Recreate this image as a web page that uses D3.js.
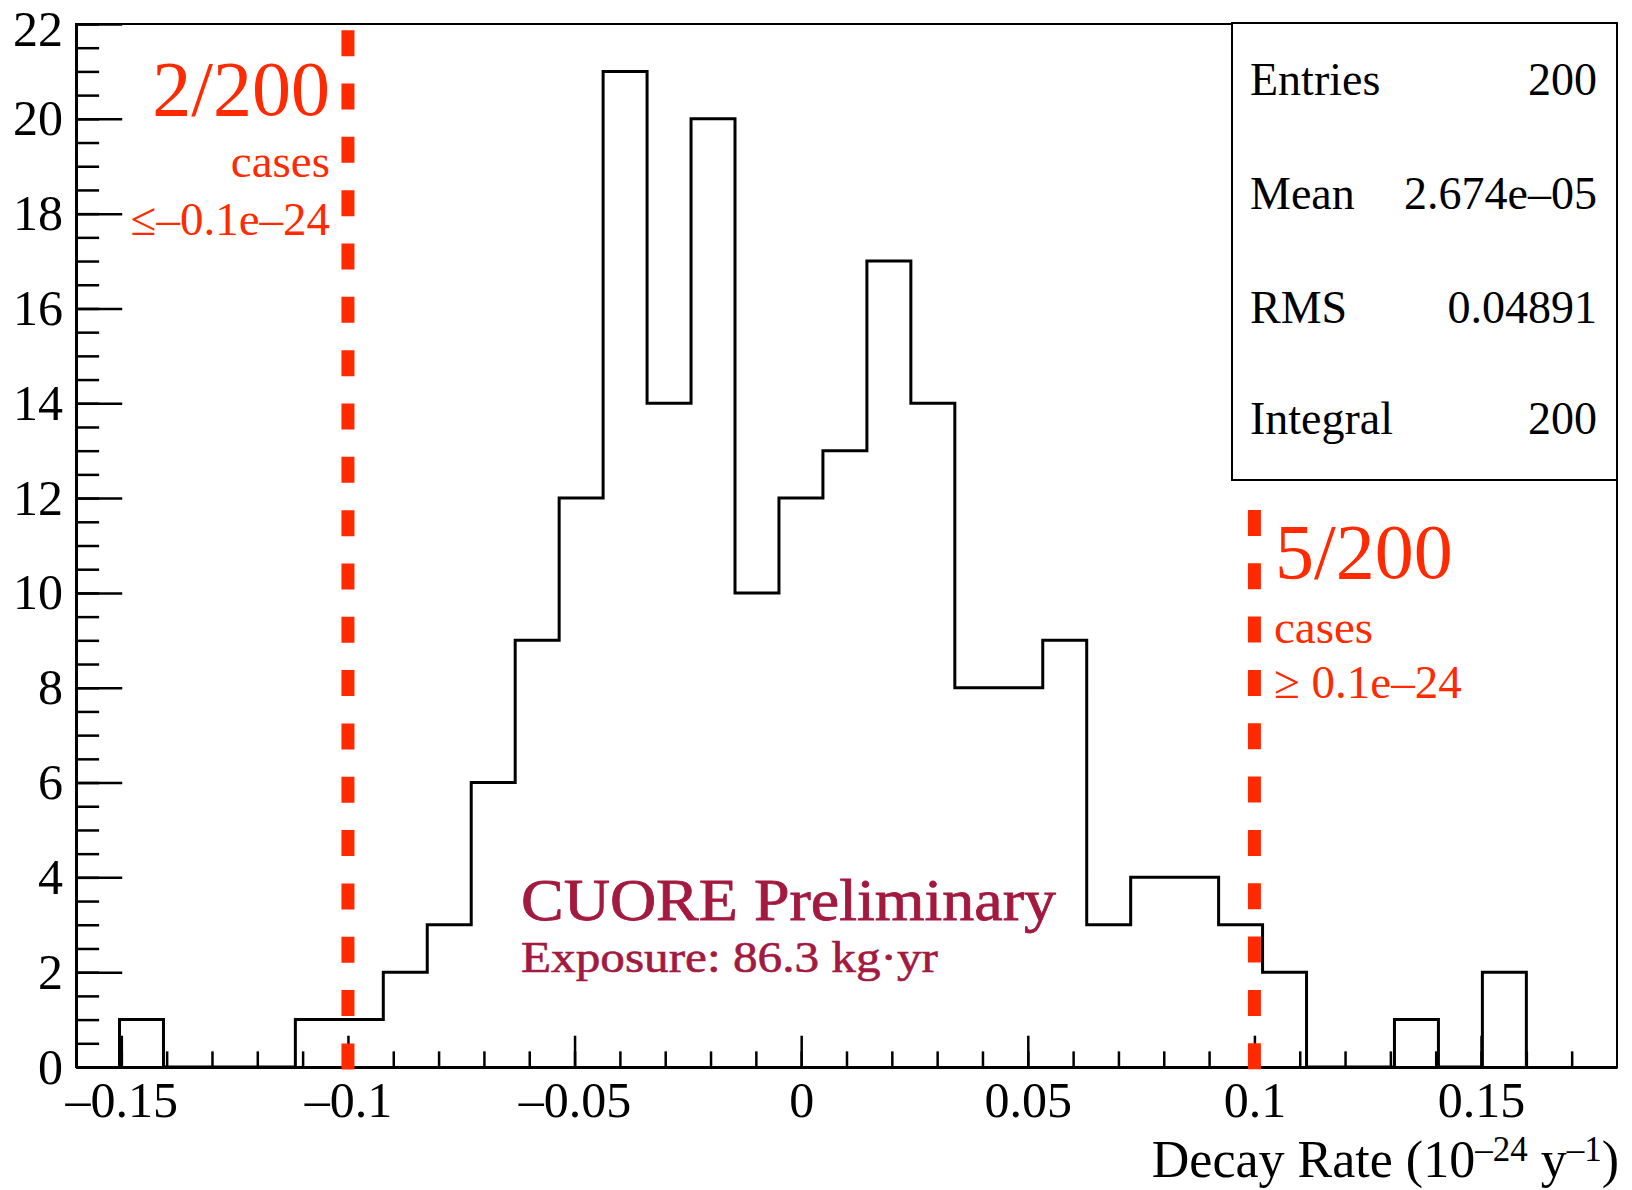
<!DOCTYPE html>
<html lang="en">
<head>
  <meta charset="utf-8">
  <title>Decay Rate</title>
  <script src="https://d3js.org/d3.v7.min.js"></script>
  <style>
    body { margin: 0; background: #fff; }
    text { font-family: "Liberation Serif", "DejaVu Serif", serif; }
  </style>
</head>
<body>
<div id="chart"></div>

<script>

// histogram content, 32 bins between binLow and binHigh
var counts = [1, 0, 0, 0, 1, 1, 2, 3, 6, 9, 12, 21, 14, 20, 10, 12,
              13, 17, 14, 8, 8, 9, 3, 4, 4, 3, 2, 0, 0, 1, 0, 2];
var binLow = -0.1504,
    binHigh = 0.1600;

// axis ranges and tick labels
var xDomain = [-0.16, 0.18];
var yDomain = [0, 22];
var xMajor = [-0.15, -0.1, -0.05, 0, 0.05, 0.1, 0.15];
var yMajor = [0, 2, 4, 6, 8, 10, 12, 14, 16, 18, 20, 22];

// cut lines: x value and how high the dashes go (in counts)
var cutX = [-0.1, 0.1];
var cutTop = [21.87, 11.75];

// stats box
var statNames = ["Entries", "Mean", "RMS", "Integral"];
var statValues = ["200", "2.674e\u201305", "0.04891", "200"];

var width = 1632, height = 1190;
var frame = {left: 76, right: 1617, top: 24, bottom: 1067};
var red = "#ff2a00";

var svg = d3.select("#chart")
  .append("svg")
    .attr("width", width)
    .attr("height", height);

var x = d3.scaleLinear()
    .domain(xDomain)
    .range([frame.left, frame.right]);
var y = d3.scaleLinear()
    .domain(yDomain)
    .range([frame.bottom, frame.top]);

var fmt = function(d) {
  if (d === 0) return "0";
  return (d < 0 ? "\u2013" : "") + String(Math.abs(d));
};

// frame (top and right sides)
svg.append("rect")
    .attr("x", frame.left)
    .attr("y", frame.top)
    .attr("width", frame.right - frame.left)
    .attr("height", frame.bottom - frame.top)
    .attr("fill", "none")
    .attr("stroke", "#000")
    .attr("stroke-width", 2);

// minor ticks
var xMinor = d3.range(-15, 18).map(function(i) { return i / 100; });
var yMinor = d3.range(0, 45).map(function(i) { return i / 2; });
var xLen = frame.bottom - frame.top, yLen = frame.right - frame.left;

svg.append("g")
    .attr("class", "minor")
    .attr("transform", "translate(0," + frame.bottom + ")")
    .call(d3.axisBottom(x).tickValues(xMinor).tickSize(-0.015 * xLen).tickFormat(""));
svg.append("g")
    .attr("class", "minor")
    .attr("transform", "translate(" + frame.left + ",0)")
    .call(d3.axisLeft(y).tickValues(yMinor).tickSize(-0.015 * yLen).tickFormat(""));
svg.selectAll(".minor .domain").remove();

// major ticks + labels
var xAxis = svg.append("g")
    .attr("transform", "translate(0," + frame.bottom + ")")
    .call(d3.axisBottom(x).tickValues(xMajor).tickSize(-0.03 * xLen)
      .tickSizeOuter(0).tickPadding(14).tickFormat(fmt));
var yAxis = svg.append("g")
    .attr("transform", "translate(" + frame.left + ",0)")
    .call(d3.axisLeft(y).tickValues(yMajor).tickSize(-0.03 * yLen)
      .tickSizeOuter(0).tickPadding(13).tickFormat(fmt));

[xAxis, yAxis].forEach(function(a) {
  a.selectAll("text")
      .attr("fill", "#000")
      .style("font-family", "Liberation Serif")
      .style("font-size", "50px");
  a.select(".domain").attr("stroke-width", 3);
});
svg.selectAll(".tick line").attr("stroke", "#000").attr("stroke-width", 2.5);
// top label is pushed a little inside the pad
yAxis.selectAll(".tick text").filter(function(d) { return d === 22; }).attr("dy", "0.42em");

// histogram outline
var nBins = counts.length;
var step = (binHigh - binLow) / nBins;
var pts = [[binLow, 0]];
counts.forEach(function(c, i) {
  pts.push([binLow + i * step, c]);
  pts.push([binLow + (i + 1) * step, c]);
});
pts.push([binHigh, 0]);

var line = d3.line()
    .x(function(d) { return x(d[0]); })
    .y(function(d) { return y(d[1]); });

svg.append("path")
    .datum(pts)
    .attr("d", line)
    .attr("fill", "none")
    .attr("stroke", "#000")
    .attr("stroke-width", 3);

// stats box
var box = {x0: 1232, x1: frame.right, y0: 23, y1: 480};
svg.append("rect")
    .attr("x", box.x0).attr("y", box.y0)
    .attr("width", box.x1 - box.x0).attr("height", box.y1 - box.y0)
    .attr("fill", "#fff")
    .attr("stroke", "#000")
    .attr("stroke-width", 2);

var rowBase = [95, 209, 323, 434];
statNames.forEach(function(name, i) {
  svg.append("text")
      .attr("x", 1250).attr("y", rowBase[i])
      .style("font-size", "46px")
      .text(name);
  svg.append("text")
      .attr("x", 1597).attr("y", rowBase[i])
      .attr("text-anchor", "end")
      .style("font-size", "46px")
      .text(statValues[i]);
});

// cut lines
cutX.forEach(function(v, i) {
  svg.append("line")
      .attr("x1", x(v)).attr("x2", x(v))
      .attr("y1", y(cutTop[i])).attr("y2", frame.bottom + 2.5)
      .attr("stroke", red)
      .attr("stroke-width", 13)
      .attr("stroke-dasharray", "26,27.33");
});

// cut annotations
var leftNote = svg.append("g").attr("fill", red).attr("text-anchor", "end");
leftNote.append("text").attr("x", 330).attr("y", 115).style("font-size", "78px").text("2/200");
leftNote.append("text").attr("x", 330).attr("y", 177).style("font-size", "47px").text("cases");
leftNote.append("text").attr("x", 330).attr("y", 235).style("font-size", "47px").text("\u2264\u20130.1e\u201324");

var rightNote = svg.append("g").attr("fill", red);
rightNote.append("text").attr("x", 1275).attr("y", 578).style("font-size", "78px").text("5/200");
rightNote.append("text").attr("x", 1274).attr("y", 643).style("font-size", "47px").text("cases");
rightNote.append("text").attr("x", 1274).attr("y", 698).style("font-size", "47px").text("\u2265 0.1e\u201324");

// experiment label
var crimson = "#a3193f";
svg.append("text")
    .attr("x", 521).attr("y", 920)
    .attr("fill", crimson)
    .attr("stroke", crimson).attr("stroke-width", 0.8)
    .attr("textLength", 535).attr("lengthAdjust", "spacingAndGlyphs")
    .style("font-size", "60px")
    .text("CUORE Preliminary");
svg.append("text")
    .attr("x", 521).attr("y", 972)
    .attr("fill", crimson)
    .attr("stroke", crimson).attr("stroke-width", 0.6)
    .attr("textLength", 417).attr("lengthAdjust", "spacingAndGlyphs")
    .style("font-size", "45px")
    .text("Exposure: 86.3 kg\u00b7yr");

// x axis title
var title = svg.append("text")
    .attr("x", 1619).attr("y", 1177)
    .attr("text-anchor", "end")
    .style("font-size", "52px");
title.append("tspan").text("Decay Rate (10");
title.append("tspan").attr("dy", -16).style("font-size", "35px").text("\u201324");
title.append("tspan").attr("dy", 16).text(" y");
title.append("tspan").attr("dy", -16).style("font-size", "35px").text("\u20131");
title.append("tspan").attr("dy", 16).text(")");

</script>
</body>
</html>
